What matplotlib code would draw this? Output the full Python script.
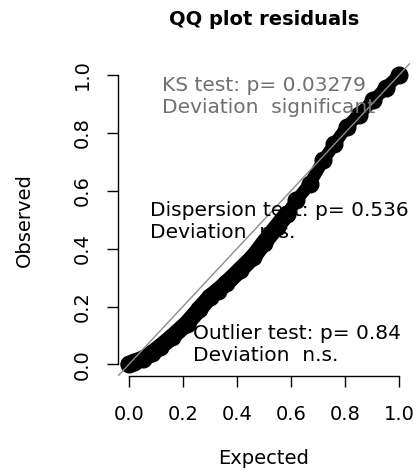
import numpy as np
import matplotlib
matplotlib.use('Agg')
import matplotlib.pyplot as plt


# QQ points (expected, observed)
expected = [0.0, 0.02, 0.053, 0.085, 0.115, 0.16, 0.214, 0.26, 0.30, 0.33,
            0.36, 0.41, 0.46, 0.50, 0.547, 0.585, 0.62, 0.67, 0.72, 0.76,
            0.806, 0.85, 0.905, 0.95, 1.0]
observed = [0.0, 0.008, 0.02, 0.038, 0.06, 0.095, 0.141, 0.19, 0.233, 0.255,
            0.28, 0.325, 0.371, 0.42, 0.475, 0.52, 0.567, 0.625, 0.706, 0.76,
            0.821, 0.862, 0.913, 0.955, 1.0]

ticks = [0.0, 0.2, 0.4, 0.6, 0.8, 1.0]
tick_labels = ['0.0', '0.2', '0.4', '0.6', '0.8', '1.0']

ks_text = ['KS test: p= 0.03279', 'Deviation  significant']
disp_text = ['Dispersion test: p= 0.536', 'Deviation  n.s.']
out_text = ['Outlier test: p= 0.84', 'Deviation  n.s.']

fig = plt.figure(figsize=(4.17, 4.72), dpi=100)
ax = fig.add_axes([0.283, 0.2034, 0.7, 0.6623])

# lower part of the band is a bit thicker than the upper part
ax.plot(expected[:16], observed[:16], color='black', lw=12,
        solid_capstyle='round', zorder=2)
ax.plot(expected[15:], observed[15:], color='black', lw=9,
        solid_capstyle='round', zorder=2)
ax.plot(expected, observed, 'o', color='black', ms=12, zorder=2)
ax.plot([-0.1, 1.1], [-0.1, 1.1], color='#8c8c8c', lw=1, zorder=3)

ax.set_xlim(-0.04, 1.04)
ax.set_ylim(-0.04, 1.04)
ax.set_xticks(ticks)
ax.set_xticklabels(tick_labels)
ax.set_yticks(ticks)
ax.set_yticklabels(tick_labels, rotation=90, va='center')
ax.tick_params(length=8, width=1, labelsize=14)
ax.tick_params(axis='x', pad=13)
ax.tick_params(axis='y', pad=11)
for s in ['top', 'right']:
    ax.spines[s].set_visible(False)
for s in ['left', 'bottom']:
    ax.spines[s].set_bounds(0, 1)
    ax.spines[s].set_linewidth(1)

ax.set_xlabel('Expected', fontsize=14, labelpad=18)
ax.set_ylabel('Observed', fontsize=14, labelpad=28)
ax.set_title('QQ plot residuals', fontsize=14, fontweight='bold', pad=28)

ax.text(0.122, 0.965, ks_text[0], color='#707070', fontsize=14.5, va='center')
ax.text(0.122, 0.886, ks_text[1], color='#707070', fontsize=14.5, va='center')
ax.text(0.078, 0.533, disp_text[0], color='black', fontsize=14.5, va='center')
ax.text(0.078, 0.457, disp_text[1], color='black', fontsize=14.5, va='center')
ax.text(0.237, 0.107, out_text[0], color='black', fontsize=14.5, va='center')
ax.text(0.237, 0.031, out_text[1], color='black', fontsize=14.5, va='center')

fig.savefig('out.png', dpi=100)
